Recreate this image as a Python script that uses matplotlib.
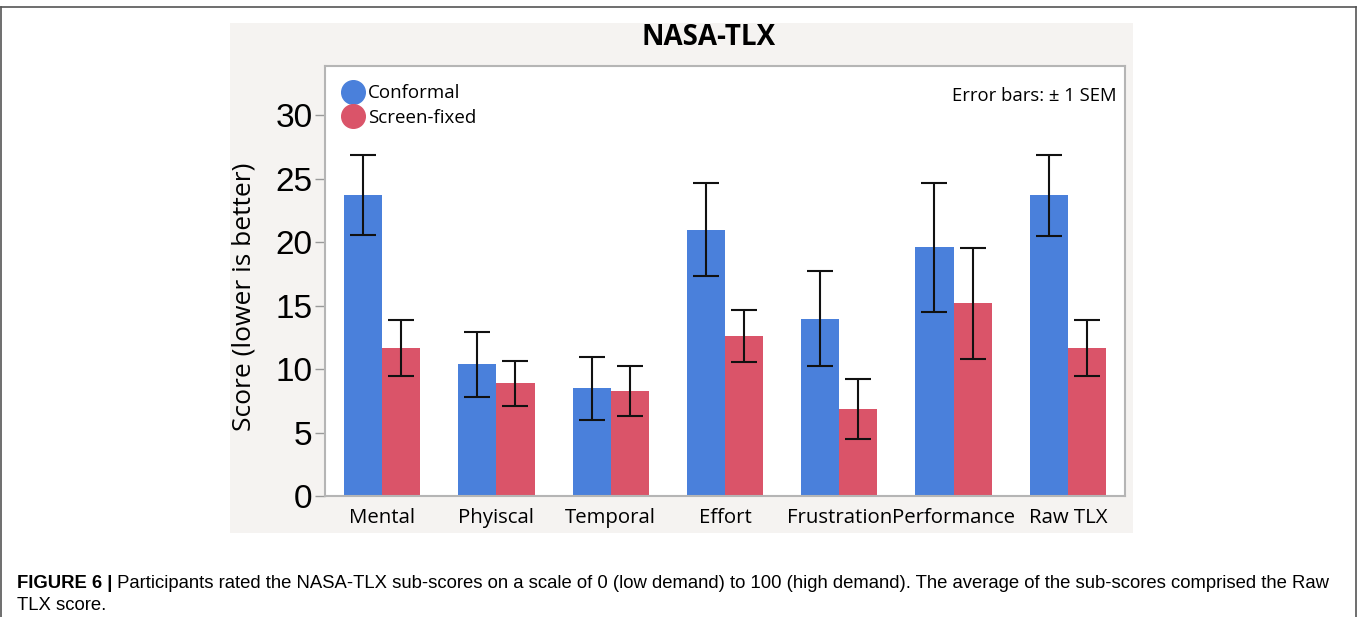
import matplotlib.pyplot as plt
from matplotlib.patches import Rectangle
from matplotlib.lines import Line2D
import numpy as np

categories = ['Mental', 'Phyiscal', 'Temporal', 'Effort', 'Frustration', 'Performance', 'Raw TLX']
conformal = [23.7, 10.4, 8.5, 21.0, 14.0, 19.6, 23.7]
conformal_sem = [3.15, 2.55, 2.5, 3.65, 3.75, 5.1, 3.2]
screen_fixed = [11.7, 8.9, 8.3, 12.6, 6.9, 15.2, 11.7]
screen_fixed_sem = [2.2, 1.75, 2.0, 2.05, 2.35, 4.35, 2.2]
yticks = [0, 5, 10, 15, 20, 25, 30]

blue = '#4a80db'
red = '#da5469'

fig = plt.figure(figsize=(13.57, 6.17), dpi=100)

# outer frame of the figure panel
fig.add_artist(Line2D([0.001, 0.999], [0.9885, 0.9885], transform=fig.transFigure, color='#555555', lw=1.2))
fig.add_artist(Line2D([0.001, 0.001], [0.0, 0.9885], transform=fig.transFigure, color='#555555', lw=1.2))
fig.add_artist(Line2D([0.999, 0.999], [0.0, 0.9885], transform=fig.transFigure, color='#555555', lw=1.2))

# grey background of the embedded chart
fig.add_artist(Rectangle((0.1695, 0.1361), 0.6654, 0.8266, transform=fig.transFigure,
                         facecolor='#f5f3f1', edgecolor='none', zorder=0))

ax = fig.add_axes([0.2395, 0.1953, 0.5895, 0.6982])
ax.set_facecolor('white')

x = np.arange(len(categories))
w = 1 / 3
ax.bar(x - w / 2, conformal, w, color=blue, label='Conformal', zorder=2)
ax.bar(x + w / 2, screen_fixed, w, color=red, label='Screen-fixed', zorder=2)
ax.errorbar(x - w / 2, conformal, yerr=conformal_sem, fmt='none', ecolor='#111111',
            elinewidth=1.5, capsize=9.5, capthick=1.5, zorder=3)
ax.errorbar(x + w / 2, screen_fixed, yerr=screen_fixed_sem, fmt='none', ecolor='#111111',
            elinewidth=1.5, capsize=9.5, capthick=1.5, zorder=3)

ax.set_xlim(-0.5, len(categories) - 0.5)
ax.set_ylim(0, 33.9)
ax.set_yticks(yticks)
ax.set_yticklabels([str(t) for t in yticks], fontsize=24, family='Liberation Sans')
ax.set_xticks(x)
ax.set_xticklabels(categories, fontsize=14.7, family='Open Sans')
ax.tick_params(axis='y', length=7, width=1, color='#999999', pad=2)
ax.tick_params(axis='x', length=0, pad=8)
for s in ax.spines.values():
    s.set_color('#b5b5b5')
    s.set_linewidth(1.5)

ax.set_ylabel('Score (lower is better)', fontsize=19, family='Open Sans')
ax.yaxis.set_label_coords(-0.086, 0.463)

ax.legend(loc='upper left', frameon=False, prop={'family': 'Open Sans', 'size': 13.5},
          handles=[Line2D([], [], marker='o', ls='none', ms=17, color=blue, label='Conformal'),
                   Line2D([], [], marker='o', ls='none', ms=17, color=red, label='Screen-fixed')],
          handletextpad=0.3, labelspacing=0.35, borderaxespad=0.6, handlelength=1.0,
          borderpad=0.4)

ax.text(0.99, 0.93, 'Error bars: \u00b1 1 SEM', transform=ax.transAxes, ha='right', va='center',
        fontsize=13.3, family='Open Sans')

fig.text(0.5225, 0.94, 'NASA-TLX', ha='center', va='center', fontsize=20, fontweight='bold',
         family='Open Sans')

# caption
cap_font = 'Liberation Sans'
t1 = fig.text(0.0125, 0.047, 'FIGURE 6 |', ha='left', va='baseline', fontsize=13.3,
              fontweight='bold', family=cap_font)
fig.text(0.0125, 0.011, 'TLX score.', ha='left', va='baseline', fontsize=13.3, family=cap_font)
ax.annotate(' Participants rated the NASA-TLX sub-scores on a scale of 0 (low demand) to 100 (high demand). '
            'The average of the sub-scores comprised the Raw',
            xy=(1, 0), xycoords=t1, va='bottom', ha='left', fontsize=13.3, family=cap_font,
            annotation_clip=False)
fig.savefig('out.png', dpi=100)
